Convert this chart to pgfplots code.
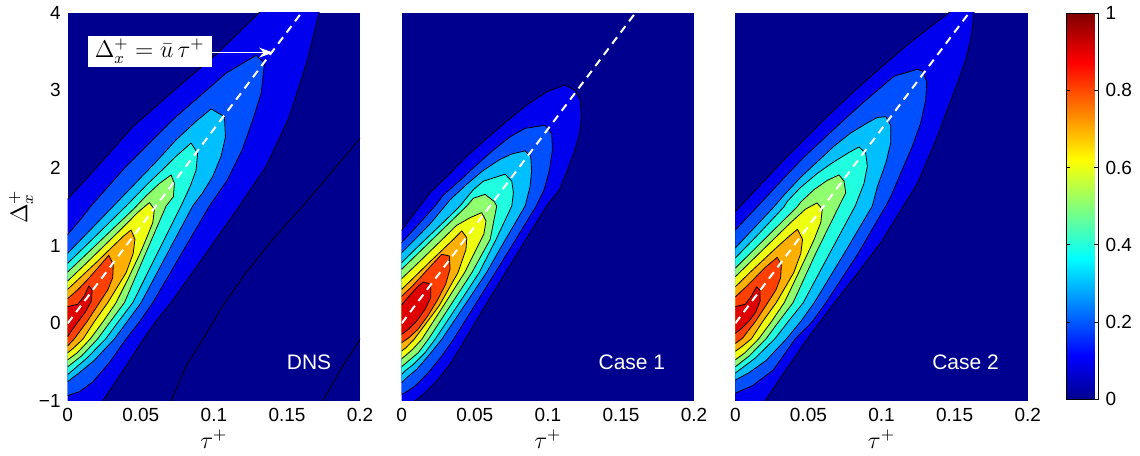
\documentclass[border=0pt]{standalone}
\usepackage{fontspec}
\setmainfont{Liberation Sans}
\usepackage{pgfplots}
\pgfplotsset{compat=1.18}
\usetikzlibrary{arrows.meta}
\definecolor{c0}{rgb}{0,0,0.5625}
\definecolor{c1}{rgb}{0,0,0.9375}
\definecolor{c2}{rgb}{0,0.3125,1}
\definecolor{c3}{rgb}{0,0.75,1}
\definecolor{c4}{rgb}{0.125,1,0.875}
\definecolor{c5}{rgb}{0.5625,1,0.4375}
\definecolor{c6}{rgb}{0.9375,1,0.0625}
\definecolor{c7}{rgb}{1,0.6875,0}
\definecolor{c8}{rgb}{1,0.25,0}
\definecolor{c9}{rgb}{0.875,0,0}
\tikzset{ct/.style={draw=black, line width=0.4pt, line join=round}}
\pgfplotsset{panel/.style={
  scale only axis, width=146.2pt, height=194.2pt,
  xmin=0, xmax=0.2, ymin=-1, ymax=4,
  axis background/.style={fill=c0},
  axis line style={draw=none},
  tick style={draw=none},
  xtick={0,0.05,0.1,0.15,0.2}, xticklabels={0,0.05,0.1,0.15,0.2},
  ytick={-1,0,1,2,3,4},
  tick label style={font=\fontsize{9.5}{10.5}\selectfont},
  xlabel={$\tau^+$},
  label style={font=\fontsize{12}{14}\selectfont},
  xlabel shift=-2.6pt,
  ylabel shift=-4pt,
  anchor=south west,
}}
\begin{document}
\begin{tikzpicture}
% ---------------- DNS ----------------
\begin{axis}[panel, at={(0pt,0pt)}, ylabel={$\Delta_x^+$}, yticklabels={−1,0,1,2,3,4}]
\addplot[ct, fill=c1] coordinates {(-0.01,1.60) (0,1.60) (0.02,2.01) (0.0445,2.53) (0.0741,3.02) (0.1015,3.46) (0.131,4.0) (0.131,4.1) (0.172,4.1) (0.172,4.0) (0.164,3.39) (0.1516,2.66) (0.1357,2.02) (0.1175,1.51) (0.0946,0.9) (0.0707,0.266) (0.0605,0.03) (0.052,-0.2) (0.0382,-0.6) (0.0239,-1.0) (0.0239,-1.1) (-0.01,-1.1)} -- cycle;
\addplot[ct, fill=c2] coordinates {(-0.01,1.142) (0,1.142) (0.008,1.318) (0.016,1.51) (0.0399,2.02) (0.0559,2.32) (0.0718,2.62) (0.0901,2.92) (0.1083,3.22) (0.1289,3.45) (0.1346,3.35) (0.1323,2.96) (0.1266,2.62) (0.1193,2.23) (0.109,1.84) (0.0969,1.51) (0.0779,0.9) (0.0582,0.266) (0.0495,0.03) (0.040,-0.2) (0.0285,-0.506) (0.0171,-0.755) (0.008,-0.88) (0,-0.93) (-0.01,-0.93)} -- cycle;
\addplot[ct, fill=c3] coordinates {(-0.01,0.902) (0,0.902) (0.02,1.29) (0.04,1.68) (0.06,2.07) (0.0741,2.36) (0.0878,2.60) (0.0981,2.76) (0.1072,2.66) (0.1079,2.40) (0.1049,2.15) (0.0992,1.89) (0.0923,1.68) (0.0855,1.51) (0.0682,0.9) (0.0502,0.266) (0.041,0.03) (0.032,-0.2) (0.018,-0.48) (0.007,-0.65) (0,-0.75) (-0.01,-0.75)} -- cycle;
\addplot[ct, fill=c4] coordinates {(-0.01,0.773) (0,0.773) (0.02,1.14) (0.04,1.51) (0.055,1.80) (0.065,1.98) (0.0741,2.15) (0.0844,2.32) (0.0889,2.19) (0.0878,1.97) (0.0837,1.76) (0.0775,1.51) (0.0613,0.9) (0.0445,0.266) (0.035,0.03) (0.026,-0.2) (0.013,-0.45) (0,-0.66) (-0.01,-0.66)} -- cycle;
\addplot[ct, fill=c5] coordinates {(-0.01,0.661) (0,0.661) (0.015,0.93) (0.03,1.2) (0.045,1.47) (0.0536,1.64) (0.0627,1.80) (0.0707,1.91) (0.073,1.80) (0.0723,1.63) (0.0673,1.51) (0.0533,0.9) (0.0388,0.266) (0.0295,0.03) (0.0205,-0.2) (0.0095,-0.42) (0,-0.56) (-0.01,-0.56)} -- cycle;
\addplot[ct, fill=c6] coordinates {(-0.01,0.545) (0,0.545) (0.0125,0.77) (0.025,1.0) (0.0375,1.23) (0.048,1.43) (0.0559,1.554) (0.0593,1.468) (0.0582,1.296) (0.0536,1.082) (0.0495,0.9) (0.042,0.6) (0.0331,0.266) (0.0245,0.03) (0.0155,-0.2) (0.0065,-0.38) (0,-0.47) (-0.01,-0.47)} -- cycle;
\addplot[ct, fill=c7] coordinates {(-0.01,0.438) (0,0.438) (0.0103,0.62) (0.0205,0.80) (0.0308,0.99) (0.038,1.12) (0.0433,1.202) (0.046,1.082) (0.0448,0.90) (0.040,0.653) (0.0274,0.266) (0.0185,0.03) (0.0105,-0.2) (0.0045,-0.31) (0,-0.38) (-0.01,-0.38)} -- cycle;
\addplot[ct, fill=c8] coordinates {(-0.01,0.318) (0,0.318) (0.0068,0.43) (0.0137,0.565) (0.0205,0.71) (0.0281,0.876) (0.0312,0.76) (0.0308,0.588) (0.0274,0.43) (0.0217,0.266) (0.0135,0.03) (0.0045,-0.2) (0,-0.29) (-0.01,-0.29)} -- cycle;
\addplot[ct, fill=c9] coordinates {(-0.01,0.215) (0,0.215) (0.0068,0.245) (0.0114,0.352) (0.0144,0.481) (0.0167,0.43) (0.0162,0.288) (0.0121,0.146) (0.0075,0.03) (0.003,-0.086) (0,-0.171) (-0.01,-0.171)} -- cycle;
\addplot[black, line width=0.4pt] coordinates {(0.203,2.45) (0.2,2.38) (0.1608,1.51) (0.1403,1.082) (0.122,0.653) (0.106,0.223) (0.0923,-0.206) (0.081,-0.549) (0.0707,-1.0) (0.0695,-1.05)};
\addplot[black, line width=0.4pt] coordinates {(0.202,-0.15) (0.2,-0.206) (0.1881,-0.549) (0.1745,-1.0) (0.173,-1.05)};
\addplot[white, line width=1pt, dash pattern=on 4pt off 3pt] coordinates {(0,0) (0.16,4)};
\node[fill=white, inner sep=0pt, minimum width=62pt, minimum height=15.4pt, font=\fontsize{12}{14}\selectfont] at (axis cs:0.0561,3.50) {$\Delta_x^+ = \bar{u}\,\tau^+$};
\draw[white, line width=0.6pt, -{Stealth[length=7pt, width=5pt]}] (axis cs:0.0987,3.485) -- (axis cs:0.1405,3.485);
\node[anchor=east, text=white, font=\fontsize{10.5}{12}\selectfont, inner sep=0pt] at (axis cs:0.1805,-0.5) {DNS};
\end{axis}
% ---------------- Case 1 ----------------
\begin{axis}[panel, at={(167pt,0pt)}, ytick=\empty]
\addplot[ct, fill=c1] coordinates {(-0.01,1.20) (0,1.20) (0.0057,1.34) (0.0125,1.51) (0.0194,1.68) (0.0308,1.89) (0.0445,2.15) (0.0581,2.38) (0.0718,2.60) (0.0855,2.81) (0.0992,2.98) (0.1117,3.07) (0.1186,3.00) (0.122,2.88) (0.1231,2.66) (0.1215,2.43) (0.1179,2.20) (0.1129,1.95) (0.1079,1.72) (0.099,1.51) (0.085,1.08) (0.071,0.653) (0.057,0.223) (0.0435,-0.206) (0.0331,-0.528) (0.0239,-0.742) (0.0148,-0.914) (0.0091,-1.0) (0.0091,-1.1) (-0.01,-1.1)} -- cycle;
\addplot[ct, fill=c2] coordinates {(-0.01,1.04) (0,1.04) (0.0114,1.27) (0.0228,1.51) (0.0285,1.65) (0.0399,1.84) (0.0513,2.04) (0.0627,2.23) (0.0741,2.40) (0.0844,2.51) (0.0981,2.55) (0.1026,2.44) (0.1031,2.23) (0.101,1.97) (0.0974,1.72) (0.092,1.51) (0.078,1.08) (0.064,0.653) (0.0497,0.223) (0.0354,-0.206) (0.0274,-0.42) (0.0182,-0.635) (0.0091,-0.807) (0.0023,-0.893) (0,-0.915) (-0.01,-0.915)} -- cycle;
\addplot[ct, fill=c3] coordinates {(-0.01,0.91) (0,0.91) (0.0091,1.08) (0.0194,1.28) (0.0296,1.51) (0.0331,1.59) (0.0445,1.79) (0.0559,1.97) (0.0673,2.11) (0.0753,2.18) (0.0844,2.22) (0.0882,2.15) (0.0889,1.97) (0.0878,1.76) (0.0844,1.51) (0.071,1.08) (0.058,0.653) (0.0427,0.223) (0.0274,-0.206) (0.0182,-0.42) (0.0103,-0.592) (0.0034,-0.70) (0,-0.764) (-0.01,-0.764)} -- cycle;
\addplot[ct, fill=c4] coordinates {(-0.01,0.781) (0,0.781) (0.008,0.93) (0.0171,1.095) (0.0285,1.30) (0.0399,1.51) (0.0433,1.59) (0.049,1.72) (0.0559,1.83) (0.0707,1.92) (0.0753,1.83) (0.0764,1.68) (0.0753,1.51) (0.0645,1.08) (0.053,0.653) (0.038,0.223) (0.0228,-0.206) (0.016,-0.377) (0.008,-0.528) (0.0023,-0.613) (0,-0.656) (-0.01,-0.656)} -- cycle;
\addplot[ct, fill=c5] coordinates {(-0.01,0.696) (0,0.696) (0.0114,0.905) (0.0217,1.093) (0.0331,1.302) (0.0445,1.51) (0.049,1.61) (0.057,1.66) (0.0632,1.57) (0.065,1.51) (0.0605,1.08) (0.048,0.653) (0.0331,0.223) (0.0182,-0.206) (0.0114,-0.377) (0.0046,-0.485) (0,-0.558) (-0.01,-0.558)} -- cycle;
\addplot[ct, fill=c6] coordinates {(-0.01,0.575) (0,0.575) (0.0125,0.80) (0.025,1.03) (0.0375,1.26) (0.0468,1.36) (0.0547,1.425) (0.0577,1.318) (0.0562,1.15) (0.043,0.653) (0.0285,0.223) (0.0137,-0.206) (0.0075,-0.335) (0.0023,-0.42) (0,-0.455) (-0.01,-0.455)} -- cycle;
\addplot[ct, fill=c7] coordinates {(-0.01,0.438) (0,0.438) (0.0094,0.61) (0.0187,0.781) (0.0283,0.953) (0.0354,1.082) (0.0411,1.19) (0.0445,1.103) (0.044,0.953) (0.0385,0.653) (0.0255,0.223) (0.0085,-0.206) (0.003,-0.313) (0,-0.356) (-0.01,-0.356)} -- cycle;
\addplot[ct, fill=c8] coordinates {(-0.01,0.35) (0,0.35) (0.0068,0.47) (0.0137,0.61) (0.0205,0.75) (0.0274,0.889) (0.0326,0.867) (0.0331,0.70) (0.030,0.50) (0.0245,0.30) (0.018,0.10) (0.011,-0.08) (0.0046,-0.19) (0,-0.249) (-0.01,-0.249)} -- cycle;
\addplot[ct, fill=c9] coordinates {(-0.01,0.24) (0,0.24) (0.0068,0.387) (0.0114,0.481) (0.0148,0.533) (0.0199,0.502) (0.0199,0.331) (0.016,0.181) (0.0103,0.03) (0.0046,-0.077) (0,-0.142) (-0.01,-0.142)} -- cycle;
\addplot[white, line width=1pt, dash pattern=on 4pt off 3pt] coordinates {(0,0) (0.16,4)};
\node[anchor=east, text=white, font=\fontsize{10.5}{12}\selectfont, inner sep=0pt] at (axis cs:0.1805,-0.5) {Case 1};
\end{axis}
% ---------------- Case 2 ----------------
\begin{axis}[panel, at={(333.8pt,0pt)}, ytick=\empty,
  colorbar,
  colormap={mjet}{rgb255(0cm)=(0,0,143); rgb255(7cm)=(0,0,255); rgb255(23cm)=(0,255,255); rgb255(39cm)=(255,255,0); rgb255(55cm)=(255,0,0); rgb255(63cm)=(128,0,0)},
  point meta min=0, point meta max=1,
  colorbar style={
    at={(parent axis.north east)}, anchor=north west, xshift=10.85pt, yshift=-0.3pt,
    scale only axis, width=16pt, height=193pt,
    ytick={0,0.2,0.4,0.6,0.8,1}, yticklabels={0,0.2,0.4,0.6,0.8,1},
    yticklabel style={font=\fontsize{9.5}{10.5}\selectfont},
    axis line style={draw=black, line width=0.5pt},
    tick style={draw=black, line width=0.4pt},
    major tick length=2pt, tick align=inside, ytick pos=both, yticklabel pos=right,
  }]
\addplot[ct, fill=c1] coordinates {(-0.01,1.44) (0,1.44) (0.016,1.76) (0.032,2.08) (0.048,2.38) (0.065,2.70) (0.082,3.0) (0.1,3.3) (0.12,3.62) (0.1462,4.0) (0.1462,4.1) (0.1633,4.1) (0.1633,4.0) (0.1615,3.69) (0.1576,3.39) (0.1519,3.09) (0.145,2.75) (0.1382,2.40) (0.1314,2.10) (0.1245,1.80) (0.115,1.51) (0.100,1.05) (0.083,0.63) (0.066,0.22) (0.049,-0.206) (0.034,-0.62) (0.0203,-1.0) (0.0203,-1.1) (-0.01,-1.1)} -- cycle;
\addplot[ct, fill=c2] coordinates {(-0.01,1.20) (0,1.20) (0.01,1.40) (0.02,1.60) (0.0333,1.87) (0.047,2.14) (0.0607,2.38) (0.0744,2.62) (0.088,2.85) (0.1017,3.07) (0.1085,3.18) (0.1245,3.27) (0.1279,3.25) (0.1309,3.11) (0.1302,2.87) (0.1268,2.58) (0.1211,2.28) (0.1142,1.98) (0.1063,1.63) (0.1029,1.51) (0.084,0.9) (0.062,0.266) (0.053,0.03) (0.041,-0.2) (0.026,-0.6) (0.012,-0.8) (0,-0.90) (-0.01,-0.90)} -- cycle;
\addplot[ct, fill=c3] coordinates {(-0.01,0.97) (0,0.97) (0.013,1.23) (0.0265,1.50) (0.0333,1.65) (0.0447,1.88) (0.0561,2.08) (0.0675,2.28) (0.0789,2.45) (0.0903,2.58) (0.0972,2.65) (0.1029,2.66) (0.1063,2.55) (0.1063,2.32) (0.1029,2.06) (0.0972,1.76) (0.0937,1.51) (0.0745,0.9) (0.054,0.266) (0.045,0.03) (0.035,-0.2) (0.021,-0.48) (0.009,-0.64) (0,-0.73) (-0.01,-0.73)} -- cycle;
\addplot[ct, fill=c4] coordinates {(-0.01,0.84) (0,0.84) (0.017,1.17) (0.0333,1.50) (0.0356,1.57) (0.0447,1.75) (0.0561,1.93) (0.0675,2.08) (0.0778,2.20) (0.0846,2.27) (0.0892,2.19) (0.0903,2.02) (0.088,1.80) (0.082,1.51) (0.0645,0.9) (0.0465,0.266) (0.0365,0.03) (0.027,-0.2) (0.0135,-0.45) (0,-0.64) (-0.01,-0.64)} -- cycle;
\addplot[ct, fill=c5] coordinates {(-0.01,0.71) (0,0.71) (0.015,0.99) (0.03,1.27) (0.0424,1.50) (0.0447,1.56) (0.0538,1.72) (0.0629,1.84) (0.0709,1.91) (0.0744,1.83) (0.0755,1.68) (0.071,1.51) (0.055,0.9) (0.0395,0.266) (0.030,0.03) (0.021,-0.2) (0.0095,-0.42) (0,-0.56) (-0.01,-0.56)} -- cycle;
\addplot[ct, fill=c6] coordinates {(-0.01,0.60) (0,0.60) (0.0125,0.83) (0.025,1.06) (0.0375,1.29) (0.048,1.47) (0.0559,1.55) (0.0595,1.47) (0.0585,1.30) (0.054,1.082) (0.0495,0.9) (0.042,0.6) (0.0335,0.266) (0.025,0.03) (0.016,-0.2) (0.0065,-0.38) (0,-0.47) (-0.01,-0.47)} -- cycle;
\addplot[ct, fill=c7] coordinates {(-0.01,0.47) (0,0.47) (0.0103,0.66) (0.0205,0.84) (0.0308,1.02) (0.038,1.14) (0.0425,1.21) (0.046,1.082) (0.0448,0.90) (0.040,0.653) (0.028,0.266) (0.019,0.03) (0.011,-0.2) (0.0045,-0.30) (0,-0.36) (-0.01,-0.36)} -- cycle;
\addplot[ct, fill=c8] coordinates {(-0.01,0.34) (0,0.34) (0.0068,0.46) (0.0137,0.59) (0.0205,0.72) (0.0287,0.85) (0.0315,0.75) (0.031,0.588) (0.0278,0.43) (0.0222,0.266) (0.014,0.03) (0.005,-0.19) (0,-0.26) (-0.01,-0.26)} -- cycle;
\addplot[ct, fill=c9] coordinates {(-0.01,0.215) (0,0.215) (0.0068,0.245) (0.011,0.35) (0.0145,0.47) (0.0168,0.43) (0.017,0.288) (0.014,0.146) (0.0095,0.03) (0.004,-0.07) (0,-0.13) (-0.01,-0.13)} -- cycle;
\addplot[white, line width=1pt, dash pattern=on 4pt off 3pt] coordinates {(0,0) (0.16,4)};
\node[anchor=east, text=white, font=\fontsize{10.5}{12}\selectfont, inner sep=0pt] at (axis cs:0.1805,-0.5) {Case 2};
\end{axis}
\pgfresetboundingbox
\path (-33.85pt,-27pt) rectangle (536.15pt,200.5pt);
\end{tikzpicture}
\end{document}
